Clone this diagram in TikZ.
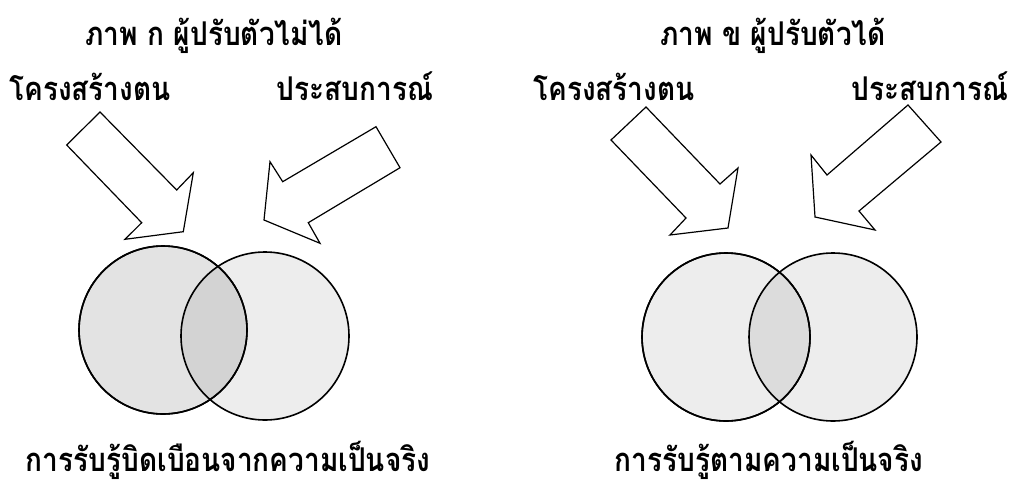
\documentclass[tikz,border=0pt]{standalone}
\usepackage{fontspec}
\newfontfamily\thaifont[Script=Thai]{Loma}
\newcommand{\tall}[1]{\scalebox{1}[1.17]{#1}}
\begin{document}
\begin{tikzpicture}[x=1pt,y=-1pt,
  lbl/.style={font=\thaifont\bfseries\fontsize{28}{34}\selectfont, inner sep=0pt, anchor=base},
  blockarrow/.style={draw=black, line width=1.2pt, fill=white, line join=miter},
  ring/.style={circle, draw=black, line width=1.6pt, minimum size=168pt, inner sep=0pt},
  light/.style={fill=black, fill opacity=0.07},
  dark/.style={fill=black, fill opacity=0.11}]
\useasboundingbox (0,0) rectangle (1016,479);
% ---- left picture
\node[lbl] (tA) at (214,45) {\tall{ภาพ ก ผู้ปรับตัวไม่ได้}};
\node[lbl] (sA) at (90,100) {\tall{โครงสร้างตน}};
\node[lbl] (eA) at (355,100) {\tall{ประสบการณ์}};
\draw[blockarrow] (100,112) -- (176.7,190) -- (193.3,172.7) -- (183.3,231.7) -- (125,239.3) -- (141.7,222.7) -- (66.7,145) -- cycle;
\draw[blockarrow] (376,126.7) -- (400,167.7) -- (308.3,222.7) -- (320,243.3) -- (264,220) -- (270,161.7) -- (282.7,181.7) -- cycle;
\node[ring, dark] (cA1) at (163,330) {};
\node[ring, light] (cA2) at (265,336) {};
\node[ring] at (cA1) {};
\node[lbl] (bA) at (228,471) {\tall{การรับรู้บิดเบือนจากความเป็นจริง}};
% ---- right picture
\node[lbl] (tB) at (773,45) {\tall{ภาพ ข ผู้ปรับตัวได้}};
\node[lbl] (sB) at (614,100) {\tall{โครงสร้างตน}};
\node[lbl] (eB) at (930,100) {\tall{ประสบการณ์}};
\draw[blockarrow] (646,107) -- (720,184) -- (738,168) -- (728,228) -- (670,235) -- (686,218) -- (611,140) -- cycle;
\draw[blockarrow] (908,105) -- (941,142) -- (859,211) -- (875,230) -- (815,217) -- (811,155) -- (827,175) -- cycle;
\node[ring, light] (cB1) at (726,337) {};
\node[ring, light] (cB2) at (833,337) {};
\node[ring] at (cB1) {};
\node[lbl] (bB) at (769,471) {\tall{การรับรู้ตามความเป็นจริง}};
\end{tikzpicture}
\end{document}
